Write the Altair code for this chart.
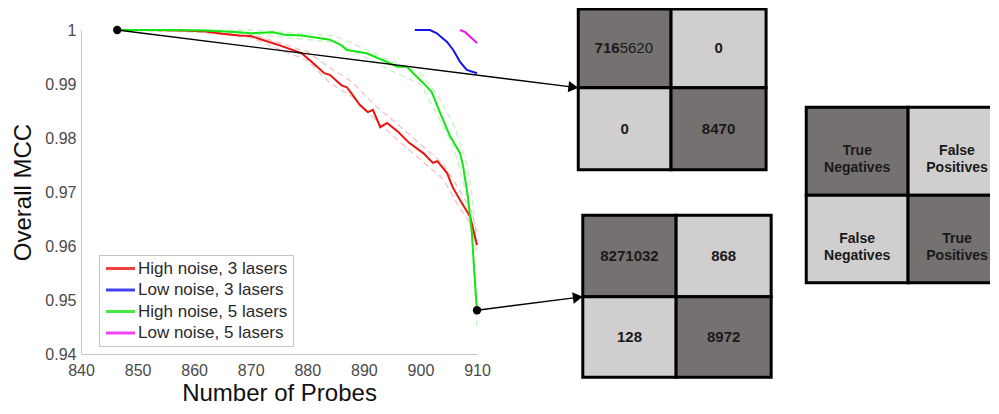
import math
import altair as alt
import pandas as pd

# ---------------- data ----------------
SERIES = ["High noise, 3 lasers", "Low noise, 3 lasers", "High noise, 5 lasers", "Low noise, 5 lasers"]
SERIES_COLORS = ["#ee1111", "#1414e6", "#14e614", "#ee14ee"]

RED_X = [846.4, 852, 858, 862, 865, 868, 870, 872, 875, 879, 881, 883, 884, 886, 887, 888,
         889.3, 890.7, 891.6, 892.9, 894.1, 896, 898, 900.5, 902.2, 903, 904.7, 905.7, 907, 908.8, 910]
RED_Y = [1.0000, 1.0000, 0.9999, 0.9997, 0.9993, 0.9990, 0.9989, 0.9982, 0.9972, 0.9957, 0.9939, 0.9920,
         0.9917, 0.9898, 0.9894, 0.9880, 0.9861, 0.9848, 0.9852, 0.9820, 0.9828, 0.9812, 0.9791, 0.9772,
         0.9754, 0.9757, 0.9735, 0.9709, 0.9685, 0.9654, 0.9602]

BLUE_X = [899.0, 901.7, 902.9, 904.7, 905.8, 907.0, 908.2, 910.0]
BLUE_Y = [1.0000, 1.0000, 0.9994, 0.9978, 0.9963, 0.9941, 0.9926, 0.9920]

GREEN_X = [846.4, 855, 862, 868, 870, 872, 874, 876, 879, 882, 884, 886, 887, 890.5, 893.4, 895.9,
           897.6, 899.4, 900.5, 902, 903.5, 905.2, 907, 907.5, 908.4, 909.1, 909.65, 910]
GREEN_Y = [1.0000, 1.0000, 0.9999, 0.9996, 0.9994, 0.9995, 0.9996, 0.9991, 0.9990, 0.9985, 0.9982, 0.9972,
           0.9963, 0.9957, 0.9944, 0.9932, 0.9932, 0.9913, 0.9902, 0.9885, 0.9846, 0.9804, 0.9772, 0.9750,
           0.9691, 0.9624, 0.9532, 0.9481]

MAGENTA_X = [907.0, 907.9, 910.0]
MAGENTA_Y = [1.0000, 0.9996, 0.9976]

# faint dashed spread around the high-noise curves
RED_HI_X = [846.4, 860, 870, 876, 880, 884, 888, 892, 896, 900, 904, 907, 909, 910]
RED_HI_Y = [1.0000, 1.0000, 0.9993, 0.9973, 0.9960, 0.9930, 0.9903, 0.9860, 0.9825, 0.9788, 0.9752, 0.9702, 0.9665, 0.9625]
RED_LO_X = [846.4, 860, 870, 876, 880, 884, 888, 892, 896, 900, 904, 907, 909, 910]
RED_LO_Y = [1.0000, 0.9997, 0.9986, 0.9960, 0.9944, 0.9902, 0.9876, 0.9834, 0.9796, 0.9760, 0.9724, 0.9670, 0.9640, 0.9585]
GREEN_HI_X = [846.4, 870, 885, 895, 900, 903, 906, 908, 909, 910]
GREEN_HI_Y = [1.0000, 1.0000, 0.9989, 0.9942, 0.9920, 0.9880, 0.9822, 0.9760, 0.9705, 0.9590]
GREEN_LO_X = [846.4, 870, 885, 895, 900, 903, 906, 908, 909, 910]
GREEN_LO_Y = [1.0000, 0.9993, 0.9977, 0.9924, 0.9900, 0.9843, 0.9780, 0.9700, 0.9630, 0.9450]

MARK_X = [846.4, 910.0]
MARK_Y = [1.0000, 0.9481]

X_TICKS = [840, 850, 860, 870, 880, 890, 900, 910]
Y_TICKS = [0.94, 0.95, 0.96, 0.97, 0.98, 0.99, 1.0]

# confusion matrices: TN, FP, FN, TP
MATRIX_TOP = ["7165620", "0", "0", "8470"]
MATRIX_BOTTOM = ["8271032", "868", "128", "8972"]
KEY_LABELS = ["True\nNegatives", "False\nPositives", "False\nNegatives", "True\nPositives"]

# ---------------- layout (axis units) ----------------
W, H = 396, 324
XDOM = [840, 910]
YDOM = [0.94, 1.0]
SX = W / (XDOM[1] - XDOM[0])
SY = H / (YDOM[1] - YDOM[0])

PANEL_TOP = {"x": [927.9, 944.3, 961.1], "y": [1.0039, 0.9893, 0.9741]}
PANEL_BOTTOM = {"x": [928.7, 945.2, 962.0], "y": [0.9657, 0.9506, 0.9357]}
PANEL_KEY = {"x": [968.2, 986.2, 1003.5], "y": [0.9857, 0.9694, 0.9532]}
DARK, LIGHT = "#767171", "#d0cece"
FONT = "Liberation Sans"

xs = alt.Scale(domain=XDOM, nice=False, zero=False)
ys = alt.Scale(domain=YDOM, nice=False, zero=False)


def X(field="x"):
    return alt.X(f"{field}:Q", scale=xs,
                 axis=alt.Axis(values=X_TICKS, title="Number of Probes", format="d"))


def Y(field="y"):
    return alt.Y(f"{field}:Q", scale=ys,
                 axis=alt.Axis(values=Y_TICKS, title="Overall MCC", format="~g"))


# main curves
rows = []
for name, xv, yv in zip(SERIES, [RED_X, BLUE_X, GREEN_X, MAGENTA_X], [RED_Y, BLUE_Y, GREEN_Y, MAGENTA_Y]):
    for a, b in zip(xv, yv):
        rows.append({"series": name, "x": a, "y": b})
lines_df = pd.DataFrame(rows)

band_rows = []
for name, col, xv, yv in [("rh", "#f5b0b0", RED_HI_X, RED_HI_Y), ("rl", "#f5b0b0", RED_LO_X, RED_LO_Y),
                          ("gh", "#b4f0b4", GREEN_HI_X, GREEN_HI_Y), ("gl", "#b4f0b4", GREEN_LO_X, GREEN_LO_Y)]:
    for a, b in zip(xv, yv):
        band_rows.append({"band": name, "col": col, "x": a, "y": b})
bands_df = pd.DataFrame(band_rows)

bands = alt.Chart(bands_df).mark_line(strokeDash=[6, 4], strokeWidth=1.3, opacity=0.8).encode(
    x=X(), y=Y(), detail="band:N", color=alt.Color("col:N", scale=None))

lines = alt.Chart(lines_df).mark_line(strokeWidth=2).encode(
    x=X(), y=Y(),
    color=alt.Color("series:N", scale=alt.Scale(domain=SERIES, range=SERIES_COLORS),
                    legend=alt.Legend(title=None, orient="none", legendX=18, legendY=225,
                                      symbolType="M-2.9,0H2.9", symbolSize=100, symbolStrokeWidth=3,
                                      symbolOffset=8, labelOffset=9, labelFont=FONT, labelFontSize=17,
                                      labelColor="#2a2a2a", padding=5, rowPadding=3.5,
                                      strokeColor="#c4c4c4", fillColor="white", labelLimit=300)))

# arrows from markers to the matrices
arrow_rows, head_rows = [], []
for i, (mx, my, panel) in enumerate(zip(MARK_X, MARK_Y, [PANEL_TOP, PANEL_BOTTOM])):
    tx, ty = panel["x"][0], panel["y"][1]
    dxp, dyp = (tx - mx) * SX, -(ty - my) * SY
    L = math.hypot(dxp, dyp)
    ux, uy = dxp / L, dyp / L
    back = 5.0
    hx = tx - back * ux / SX
    hy = ty + back * uy / SY
    arrow_rows += [{"a": i, "o": 0, "x": mx, "y": my}, {"a": i, "o": 1, "x": hx, "y": hy}]
    head_rows.append({"x": hx, "y": hy, "angle": math.degrees(math.atan2(dyp, dxp)) % 360})
arrows = alt.Chart(pd.DataFrame(arrow_rows)).mark_line(color="black", strokeWidth=1.4).encode(
    x=X(), y=Y(), detail="a:N", order="o:Q")
heads = alt.Chart(pd.DataFrame(head_rows)).mark_point(shape="triangle-right", filled=True, color="black",
                                                      size=130, opacity=1).encode(
    x=X(), y=Y(), angle=alt.Angle("angle:Q", scale=None))
dots = alt.Chart(pd.DataFrame({"x": MARK_X, "y": MARK_Y})).mark_circle(color="black", size=70, opacity=1).encode(
    x=X(), y=Y())

# matrices
cell_rows, num_rows, key_rows = [], [], []
for pname, panel, labels in [("top", PANEL_TOP, MATRIX_TOP), ("bottom", PANEL_BOTTOM, MATRIX_BOTTOM),
                             ("key", PANEL_KEY, KEY_LABELS)]:
    for k, (r, c) in enumerate([(0, 0), (0, 1), (1, 0), (1, 1)]):
        x0, x1 = panel["x"][c], panel["x"][c + 1]
        y0, y1 = panel["y"][r], panel["y"][r + 1]
        cell_rows.append({"x": x0, "x2": x1, "y": y0, "y2": y1, "fill": DARK if r == c else LIGHT})
        rec = {"x": (x0 + x1) / 2, "y": (y0 + y1) / 2, "label": labels[k]}
        if pname == "key":
            key_rows.append(rec)
        else:
            num_rows.append(rec)
cells = alt.Chart(pd.DataFrame(cell_rows)).mark_rect(stroke="black", strokeWidth=3).encode(
    x=X(), x2="x2:Q", y=Y(), y2="y2:Q", fill=alt.Fill("fill:N", scale=None))

num_df = pd.DataFrame(num_rows)
split_row = num_df.iloc[[0]].copy()
plain_nums = num_df.iloc[1:]
head_part = split_row.assign(label=split_row["label"].str[:3])
tail_part = split_row.assign(label=split_row["label"].str[3:])

nums = alt.Chart(plain_nums).mark_text(font=FONT, fontSize=15, fontWeight="bold", color="#1a1a1a",
                                       align="center", baseline="middle").encode(x=X(), y=Y(), text="label:N")
nums_a = alt.Chart(head_part).mark_text(font=FONT, fontSize=15, fontWeight="bold", color="#1a1a1a",
                                        align="right", baseline="middle", dx=-5).encode(x=X(), y=Y(), text="label:N")
nums_b = alt.Chart(tail_part).mark_text(font=FONT, fontSize=15, fontWeight="normal", color="#1a1a1a",
                                        align="left", baseline="middle", dx=-5).encode(x=X(), y=Y(), text="label:N")
keys = alt.Chart(pd.DataFrame(key_rows)).mark_text(font=FONT, fontSize=14, fontWeight="bold", color="#1a1a1a",
                                                   align="center", baseline="middle", lineBreak="\n",
                                                   lineHeight=17).encode(x=X(), y=Y(), text="label:N")

chart = alt.layer(bands, lines, arrows, heads, dots, cells, nums, nums_a, nums_b, keys).properties(
    width=W, height=H,
    autosize=alt.AutoSizeParams(type="none"),
    padding={"left": 73, "top": 22, "right": 513, "bottom": 50},
).configure_view(stroke=None).configure_axis(
    domainColor="#c6c6c6", domainWidth=1, ticks=False, grid=False, labelFlush=False,
    labelFont=FONT, labelFontSize=16, labelColor="#4a4a4a",
    titleFont=FONT, titleFontSize=24, titleFontWeight="normal", titleColor="#111111",
).configure_axisX(labelPadding=8, titleY=46, titleBaseline="alphabetic").configure_axisY(
    labelPadding=5, titleX=-51, titleBaseline="alphabetic")

chart.save("out.html", embed_options={"renderer": "svg", "actions": False})
